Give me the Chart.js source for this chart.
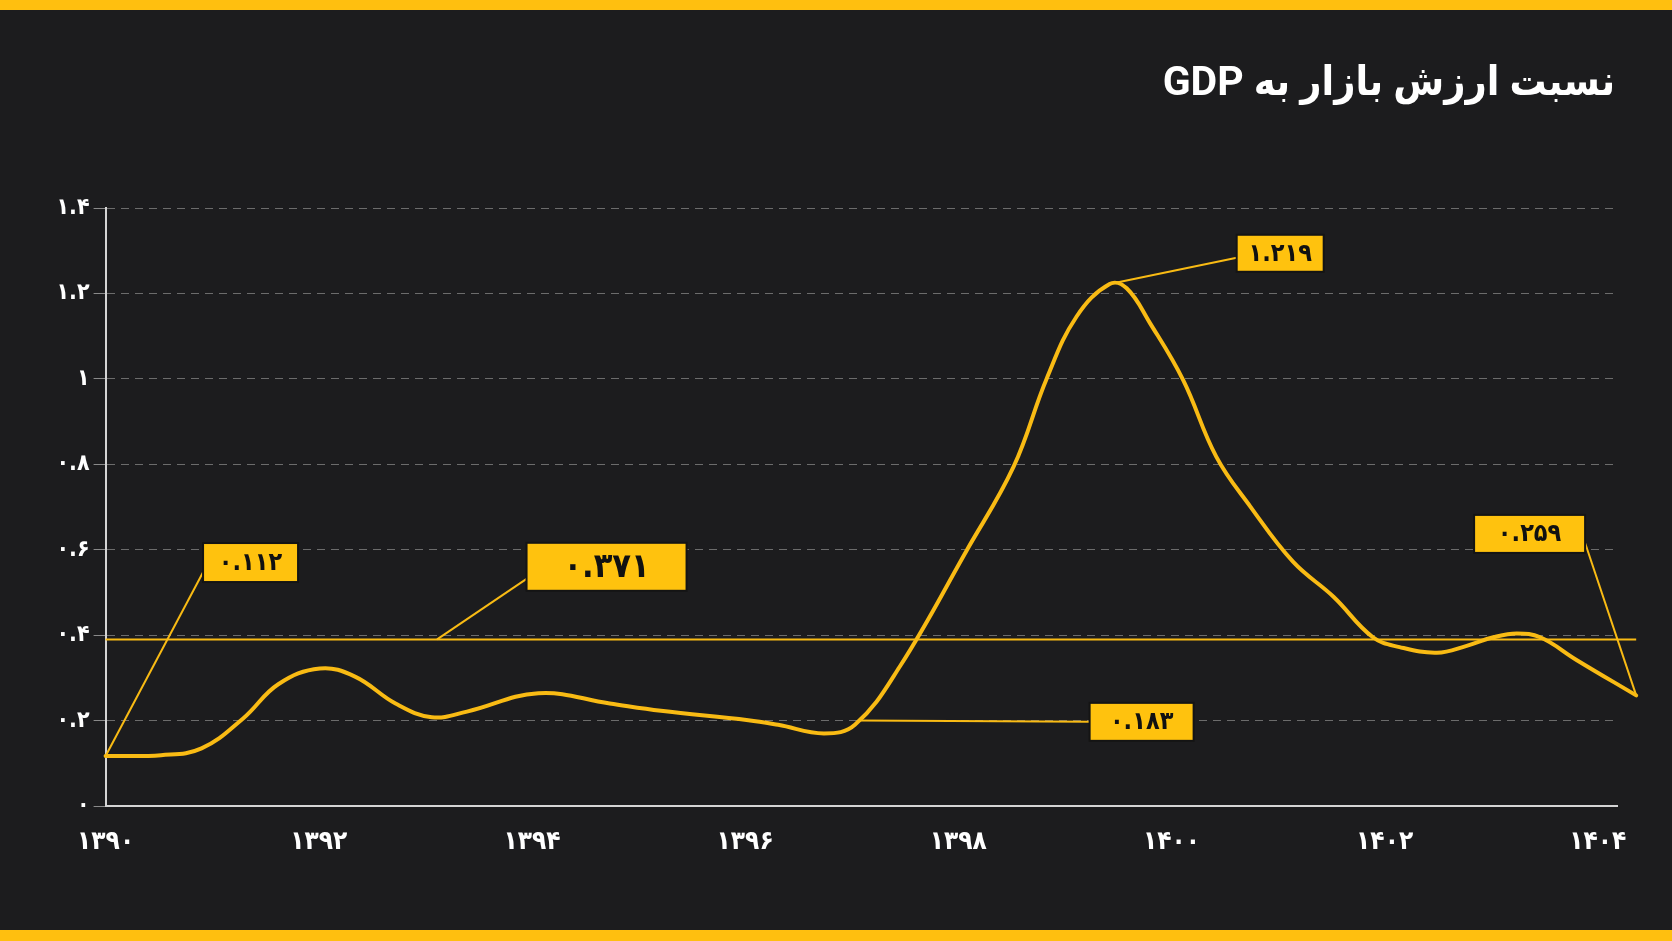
<!DOCTYPE html>
<html><head><meta charset="utf-8">
<script src="https://cdn.jsdelivr.net/npm/chart.js@4.4.1/dist/chart.umd.min.js"></script>
<style>
html,body{margin:0;padding:0;background:#1c1c1e;}
#wrap{position:relative;width:1672px;height:941px;background:#1c1c1e;overflow:hidden;}
#topbar{position:absolute;left:0;top:0;width:1672px;height:10px;background:#ffbf0f;}
#botbar{position:absolute;left:0;bottom:0;width:1672px;height:11px;background:#ffbf0f;}
#title{position:absolute;right:57px;top:57px;font:bold 41px Roboto, "DejaVu Sans Condensed", "DejaVu Sans";color:#fff;direction:rtl;white-space:nowrap;line-height:1.2;}
canvas{position:absolute;left:0;top:0;}
</style></head>
<body><div id="wrap"><canvas id="c" width="1672" height="941"></canvas><div id="topbar"></div><div id="botbar"></div><div id="title">نسبت ارزش بازار به GDP</div></div>
<script>
// ---- data ----
const years = [1390.0, 1390.52, 1390.90, 1391.29, 1391.62, 1392.01, 1392.34, 1392.72, 1393.06, 1393.39,
  1394.06, 1394.73, 1395.21, 1396.03, 1396.31, 1396.74, 1397.03, 1397.45, 1398.08, 1398.52,
  1398.83, 1399.11, 1399.42, 1399.58, 1399.80, 1400.11, 1400.42, 1400.74, 1401.14, 1401.52, 1401.89,
  1402.14, 1402.49, 1402.77, 1403.02, 1403.24, 1403.46, 1403.80, 1404.36];
const ratio = [0.117, 0.119, 0.135, 0.205, 0.285, 0.322, 0.303, 0.240, 0.208, 0.221,
  0.264, 0.240, 0.223, 0.201, 0.190, 0.170, 0.190, 0.326, 0.599, 0.795,
  1.001, 1.146, 1.222, 1.212, 1.130, 0.997, 0.818, 0.701, 0.572, 0.490, 0.395,
  0.372, 0.359, 0.375, 0.395, 0.404, 0.395, 0.342, 0.259];
const averageLine = 0.39;
const xTickValues = [1390, 1392, 1394, 1396, 1398, 1400, 1402, 1404];
const xTickLabels = ['۱۳۹۰', '۱۳۹۲', '۱۳۹۴', '۱۳۹۶', '۱۳۹۸', '۱۴۰۰', '۱۴۰۲', '۱۴۰۴'];
const yTickValues = [0, 0.2, 0.4, 0.6, 0.8, 1, 1.2, 1.4];
const yTickLabels = ['۰', '۰.۲', '۰.۴', '۰.۶', '۰.۸', '۱', '۱.۲', '۱.۴'];
// annotations: label text, anchor point (data coords), box centre (data coords)
const annoLabels = ['۰.۱۱۲', '۰.۳۷۱', '۱.۲۱۹', '۰.۱۸۳', '۰.۲۵۹'];
const annoAnchorX = [1390.0, 1393.11, 1399.42, 1397.06, 1404.36];
const annoAnchorY = [0.117, averageLine, 1.222, 0.200, 0.259];
const annoBoxX = [1391.36, 1394.70, 1401.02, 1399.72, 1403.36];
const annoBoxY = [0.570, 0.560, 1.294, 0.197, 0.637];

// ---- styles ----
const YELLOW = '#f9bb14';
const BOX = '#ffc20e';
const annoStyle = [
  {w: 95, h: 39, font: 25, side: 'left', f: 0.75},
  {w: 160, h: 48, font: 34, side: 'left', f: 0.75},
  {w: 87, h: 37, font: 25, side: 'left', f: 0.62},
  {w: 104, h: 38, font: 25, side: 'left', f: 0.5},
  {w: 111, h: 38, font: 25, side: 'right', f: 0.74}
];

const avgPlugin = {
  id: 'avg',
  beforeDatasetsDraw(chart) {
    const {ctx, chartArea, scales: {x, y}} = chart;
    const py = y.getPixelForValue(averageLine);
    ctx.save();
    ctx.strokeStyle = YELLOW; ctx.lineWidth = 2;
    ctx.beginPath();
    ctx.moveTo(chartArea.left, py);
    ctx.lineTo(x.getPixelForValue(years[years.length - 1]), py);
    ctx.stroke();
    ctx.restore();
  }
};
const annoPlugin = {
  id: 'anno',
  afterDatasetsDraw(chart) {
    const {ctx, scales: {x, y}} = chart;
    ctx.save();
    annoLabels.forEach((txt, i) => {
      const s = annoStyle[i];
      const cx = x.getPixelForValue(annoBoxX[i]);
      const cy = y.getPixelForValue(annoBoxY[i]);
      const left = cx - s.w / 2, top = cy - s.h / 2;
      const sx = s.side === 'left' ? left : left + s.w;
      const sy = top + s.h * s.f;
      ctx.strokeStyle = YELLOW; ctx.lineWidth = 2;
      ctx.beginPath();
      ctx.moveTo(sx, sy);
      ctx.lineTo(x.getPixelForValue(annoAnchorX[i]), y.getPixelForValue(annoAnchorY[i]));
      ctx.stroke();
      ctx.fillStyle = BOX;
      ctx.fillRect(left, top, s.w, s.h);
      ctx.strokeStyle = '#141414'; ctx.lineWidth = 2;
      ctx.strokeRect(left, top, s.w, s.h);
      ctx.fillStyle = '#111';
      ctx.font = 'bold ' + s.font + 'px "DejaVu Sans Condensed", "DejaVu Sans"';
      ctx.textAlign = 'center'; ctx.textBaseline = 'middle';
      ctx.fillText(txt, cx, cy + 1);
    });
    ctx.restore();
  }
};

new Chart(document.getElementById('c'), {
  type: 'line',
  data: {
    datasets: [{
      data: years.map((v, i) => ({x: v, y: ratio[i]})),
      borderColor: YELLOW,
      borderWidth: 4,
      pointRadius: 0,
      tension: 0.4,
      borderCapStyle: 'round',
      borderJoinStyle: 'round',
      clip: false
    }]
  },
  options: {
    responsive: false,
    animation: false,
    devicePixelRatio: 1,
    layout: {padding: {left: 0, right: 55, top: 208, bottom: 75}},
    plugins: {legend: {display: false}, tooltip: {enabled: false}},
    scales: {
      x: {
        type: 'linear', min: 1390, max: 1404.18,
        afterBuildTicks: (s) => { s.ticks = xTickValues.map(v => ({value: v})); },
        afterFit: (s) => { s.height = 60; },
        grid: {drawOnChartArea: false, drawTicks: false},
        border: {display: true, color: '#d4d4d4', width: 2},
        ticks: {
          color: '#ffffff', padding: 21, maxRotation: 0, autoSkip: false,
          font: {family: '"DejaVu Sans Condensed", "DejaVu Sans"', weight: 'bold', size: 26},
          callback: (v) => xTickLabels[xTickValues.indexOf(v)]
        }
      },
      y: {
        min: 0, max: 1.4,
        afterBuildTicks: (s) => { s.ticks = yTickValues.map(v => ({value: v})); },
        afterFit: (s) => { s.width = 105.6; },
        grid: {color: '#6c6c6c', lineWidth: 1, drawTicks: true, tickLength: 12, tickColor: '#8a8a8a', tickBorderDash: []},
        border: {display: true, color: '#d4d4d4', width: 2, dash: [8, 6]},
        ticks: {
          color: '#ffffff', padding: 4,
          font: {family: '"DejaVu Sans Condensed", "DejaVu Sans"', weight: 'bold', size: 23},
          callback: (v) => yTickLabels[yTickValues.indexOf(v)]
        }
      }
    }
  },
  plugins: [avgPlugin, annoPlugin]
});
</script>
</body></html>
